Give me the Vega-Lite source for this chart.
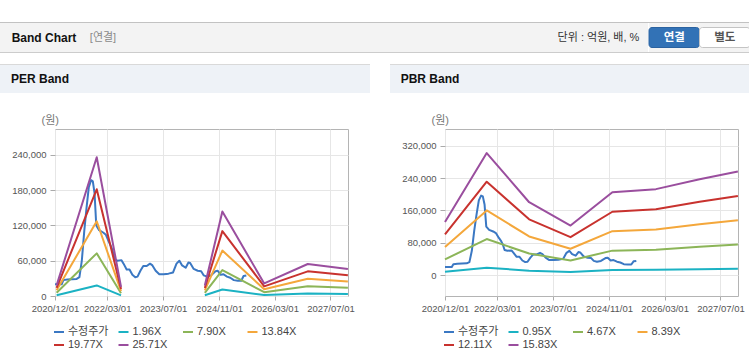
{
 "$schema": "https://vega.github.io/schema/vega-lite/v6.json",
 "padding": {"top": 22, "left": 0, "right": 0, "bottom": 0},
 "background": "#ffffff",
 "config": {
  "font": "Liberation Sans, Noto Sans CJK KR, sans-serif",
  "view": {"stroke": null},
  "legend": {"orient": "bottom", "columns": 4, "gridAlign": "all", "symbolType": "stroke", "symbolSize": 100, "symbolStrokeWidth": 2, "symbolOffset": -2, "labelFontSize": 11, "labelColor": "#444444", "labelOffset": 3, "columnPadding": 5.5, "rowPadding": 2, "offset": 13, "padding": 0}
 },
 "datasets": {
  "price": [
   {"d":"2020-12-01","v":20000},{"d":"2021-01-29","v":20000},{"d":"2021-02-12","v":27000},{"d":"2021-03-19","v":28000},
   {"d":"2021-06-08","v":29000},{"d":"2021-07-02","v":32000},{"d":"2021-07-23","v":60000},{"d":"2021-08-13","v":110000},
   {"d":"2021-09-02","v":150000},{"d":"2021-09-22","v":185000},{"d":"2021-10-12","v":197000},{"d":"2021-10-27","v":195000},
   {"d":"2021-11-11","v":175000},{"d":"2021-11-26","v":120000},{"d":"2021-12-21","v":112000},{"d":"2022-01-25","v":108000},
   {"d":"2022-02-18","v":104000},{"d":"2022-03-16","v":92000},{"d":"2022-04-05","v":84000},{"d":"2022-04-20","v":75000},
   {"d":"2022-05-05","v":62000},{"d":"2022-05-30","v":60000},{"d":"2022-07-04","v":61000},{"d":"2022-07-22","v":55000},
   {"d":"2022-08-18","v":45000},{"d":"2022-09-12","v":45000},{"d":"2022-10-07","v":36000},{"d":"2022-11-01","v":32000},
   {"d":"2022-11-21","v":33000},{"d":"2022-12-16","v":43000},{"d":"2023-01-10","v":51000},{"d":"2023-02-09","v":51000},
   {"d":"2023-03-10","v":55000},{"d":"2023-03-31","v":52000},{"d":"2023-04-28","v":43000},{"d":"2023-05-30","v":37000},
   {"d":"2023-07-07","v":37000},{"d":"2023-08-18","v":38000},{"d":"2023-09-27","v":40000},{"d":"2023-10-27","v":55000},
   {"d":"2023-11-21","v":60000},{"d":"2023-12-15","v":52000},{"d":"2024-01-15","v":48000},{"d":"2024-02-08","v":57000},
   {"d":"2024-02-23","v":56000},{"d":"2024-03-25","v":46000},{"d":"2024-04-29","v":43000},{"d":"2024-05-29","v":42000},
   {"d":"2024-06-21","v":35000},{"d":"2024-07-18","v":33000},{"d":"2024-08-22","v":35000},{"d":"2024-10-01","v":42000},
   {"d":"2024-10-21","v":43000},{"d":"2024-11-15","v":36000},{"d":"2024-12-10","v":37000},{"d":"2025-01-09","v":33000},
   {"d":"2025-02-07","v":31000},{"d":"2025-03-10","v":27000},{"d":"2025-04-14","v":26000},{"d":"2025-05-14","v":26000},
   {"d":"2025-06-03","v":34000},{"d":"2025-06-27","v":35000}
  ],
  "per": [
   {"d":"2020-12-15","g":1,"s":"1.96X","v":1372},{"d":"2020-12-15","g":1,"s":"7.90X","v":5530},{"d":"2020-12-15","g":1,"s":"13.84X","v":9688},{"d":"2020-12-15","g":1,"s":"19.77X","v":13839},{"d":"2020-12-15","g":1,"s":"25.71X","v":17997},
   {"d":"2021-11-30","g":1,"s":"1.96X","v":17993},{"d":"2021-11-30","g":1,"s":"7.90X","v":72522},{"d":"2021-11-30","g":1,"s":"13.84X","v":127051},{"d":"2021-11-30","g":1,"s":"19.77X","v":181489},{"d":"2021-11-30","g":1,"s":"25.71X","v":236018},
   {"d":"2022-06-30","g":1,"s":"1.96X","v":1176},{"d":"2022-06-30","g":1,"s":"7.90X","v":4740},{"d":"2022-06-30","g":1,"s":"13.84X","v":8304},{"d":"2022-06-30","g":1,"s":"19.77X","v":11862},{"d":"2022-06-30","g":1,"s":"25.71X","v":15426},
   {"d":"2024-06-30","g":2,"s":"1.96X","v":1352},{"d":"2024-06-30","g":2,"s":"7.90X","v":5451},{"d":"2024-06-30","g":2,"s":"13.84X","v":9550},{"d":"2024-06-30","g":2,"s":"19.77X","v":13641},{"d":"2024-06-30","g":2,"s":"25.71X","v":17740},
   {"d":"2024-11-30","g":2,"s":"1.96X","v":10943},{"d":"2024-11-30","g":2,"s":"7.90X","v":44106},{"d":"2024-11-30","g":2,"s":"13.84X","v":77269},{"d":"2024-11-30","g":2,"s":"19.77X","v":110376},{"d":"2024-11-30","g":2,"s":"25.71X","v":143539},
   {"d":"2025-11-30","g":2,"s":"1.96X","v":1627},{"d":"2025-11-30","g":2,"s":"7.90X","v":6557},{"d":"2025-11-30","g":2,"s":"13.84X","v":11487},{"d":"2025-11-30","g":2,"s":"19.77X","v":16409},{"d":"2025-11-30","g":2,"s":"25.71X","v":21339},
   {"d":"2026-12-15","g":2,"s":"1.96X","v":4153},{"d":"2026-12-15","g":2,"s":"7.90X","v":16740},{"d":"2026-12-15","g":2,"s":"13.84X","v":29327},{"d":"2026-12-15","g":2,"s":"19.77X","v":41893},{"d":"2026-12-15","g":2,"s":"25.71X","v":54479},
   {"d":"2027-11-30","g":2,"s":"1.96X","v":3508},{"d":"2027-11-30","g":2,"s":"7.90X","v":14141},{"d":"2027-11-30","g":2,"s":"13.84X","v":24774},{"d":"2027-11-30","g":2,"s":"19.77X","v":35388},{"d":"2027-11-30","g":2,"s":"25.71X","v":46021}
  ],
  "pbr": [
   {"d":"2020-12-01","s":"0.95X","v":7885},{"d":"2020-12-01","s":"4.67X","v":38761},{"d":"2020-12-01","s":"8.39X","v":69637},{"d":"2020-12-01","s":"12.11X","v":100513},{"d":"2020-12-01","s":"15.83X","v":131389},
   {"d":"2021-11-30","s":"0.95X","v":18145},{"d":"2021-11-30","s":"4.67X","v":89197},{"d":"2021-11-30","s":"8.39X","v":160249},{"d":"2021-11-30","s":"12.11X","v":231301},{"d":"2021-11-30","s":"15.83X","v":302353},
   {"d":"2022-12-05","s":"0.95X","v":10830},{"d":"2022-12-05","s":"4.67X","v":53238},{"d":"2022-12-05","s":"8.39X","v":95646},{"d":"2022-12-05","s":"12.11X","v":138054},{"d":"2022-12-05","s":"15.83X","v":180462},
   {"d":"2023-12-01","s":"0.95X","v":7363},{"d":"2023-12-01","s":"4.67X","v":36193},{"d":"2023-12-01","s":"8.39X","v":65023},{"d":"2023-12-01","s":"12.11X","v":93853},{"d":"2023-12-01","s":"15.83X","v":122683},
   {"d":"2024-11-30","s":"0.95X","v":12303},{"d":"2024-11-30","s":"4.67X","v":60477},{"d":"2024-11-30","s":"8.39X","v":108651},{"d":"2024-11-30","s":"12.11X","v":156825},{"d":"2024-11-30","s":"15.83X","v":204999},
   {"d":"2025-12-15","s":"0.95X","v":12778},{"d":"2025-12-15","s":"4.67X","v":62812},{"d":"2025-12-15","s":"8.39X","v":112846},{"d":"2025-12-15","s":"12.11X","v":162880},{"d":"2025-12-15","s":"15.83X","v":212914},
   {"d":"2026-12-31","s":"0.95X","v":14250},{"d":"2026-12-31","s":"4.67X","v":70050},{"d":"2026-12-31","s":"8.39X","v":125850},{"d":"2026-12-31","s":"12.11X","v":181650},{"d":"2026-12-31","s":"15.83X","v":237450},
   {"d":"2027-11-30","s":"0.95X","v":15390},{"d":"2027-11-30","s":"4.67X","v":75654},{"d":"2027-11-30","s":"8.39X","v":135918},{"d":"2027-11-30","s":"12.11X","v":196182},{"d":"2027-11-30","s":"15.83X","v":256446}
  ]
 },
 "spacing": 11,
 "align": "none",
 "vconcat": [
  {"spacing": 0, "align": "none", "vconcat": [
   {"width": 749, "height": 1, "view": {"fill": "#c2c2c2", "stroke": null}, "data": {"values": []}, "mark": {"type": "text", "text": ""}},
   {"spacing": 0, "align": "none", "hconcat": [
    {"width": 88, "height": 29, "view": {"fill": "#f3f3f3", "stroke": null}, "data": {"values": [{"t": "Band Chart"}]}, "mark": {"type": "text", "fontSize": 12, "fontWeight": "bold", "color": "#111111"}, "encoding": {"text": {"field": "t", "type": "nominal"}}},
    {"width": 30, "height": 29, "view": {"fill": "#f3f3f3", "stroke": null}, "data": {"values": [{"t": "[연결]"}]}, "mark": {"type": "text", "fontSize": 11, "color": "#8a8a8a"}, "encoding": {"text": {"field": "t", "type": "nominal"}}},
    {"width": 431, "height": 29, "view": {"fill": "#f3f3f3", "stroke": null}, "data": {"values": []}, "mark": {"type": "text", "text": ""}},
    {"width": 99, "height": 29, "view": {"fill": "#f3f3f3", "stroke": null}, "data": {"values": [{"t": "단위 : 억원, 배, %"}]}, "mark": {"type": "text", "fontSize": 11, "color": "#333333"}, "encoding": {"text": {"field": "t", "type": "nominal"}}},
    {"width": 101, "height": 29, "view": {"fill": "#f3f3f3", "stroke": null}, "data": {"values": [{"b": "연결"}, {"b": "별도"}]},
     "encoding": {
      "x": {"field": "b", "type": "nominal", "sort": ["연결", "별도"], "axis": null, "scale": {"paddingInner": 0, "paddingOuter": 0}},
      "y": {"datum": "btn", "type": "nominal", "axis": null, "scale": {"paddingInner": 0, "paddingOuter": 0.225}}
     },
     "layer": [
      {"mark": {"type": "bar", "cornerRadius": 3, "strokeWidth": 1},
       "encoding": {
        "fill": {"condition": {"test": "datum.b === '연결'", "value": "#3272b6"}, "value": "#ffffff"},
        "stroke": {"condition": {"test": "datum.b === '연결'", "value": "#2a62a0"}, "value": "#c4c4c4"}
       }},
      {"mark": {"type": "text", "fontSize": 11.5, "fontWeight": "bold"},
       "encoding": {
        "text": {"field": "b", "type": "nominal"},
        "color": {"condition": {"test": "datum.b === '연결'", "value": "#ffffff"}, "value": "#555555"}
       }}
     ]}
   ]},
   {"width": 749, "height": 1, "view": {"fill": "#cccccc", "stroke": null}, "data": {"values": []}, "mark": {"type": "text", "text": ""}}
  ]},
  {"spacing": 20, "align": "none",
   "resolve": {"scale": {"color": "independent"}, "legend": {"color": "independent"}},
   "hconcat": [
   {"spacing": 20, "align": "none",
    "resolve": {"scale": {"color": "independent"}, "legend": {"color": "independent"}},
    "vconcat": [
    {"spacing": 0, "align": "none", "vconcat": [
     {"width": 370, "height": 1, "view": {"fill": "#d9d9d9", "stroke": null}, "data": {"values": []}, "mark": {"type": "text", "text": ""}},
     {"spacing": 0, "align": "none", "hconcat": [
      {"width": 80, "height": 28, "view": {"fill": "#eef2f7", "stroke": null}, "data": {"values": [{"t": "PER Band"}]}, "mark": {"type": "text", "fontSize": 12, "fontWeight": "bold", "color": "#111111"}, "encoding": {"text": {"field": "t", "type": "nominal"}}},
      {"width": 290, "height": 28, "view": {"fill": "#eef2f7", "stroke": null}, "data": {"values": []}, "mark": {"type": "text", "text": ""}}
     ]}
    ]},
    {"spacing": 13, "align": "none",
     "resolve": {"scale": {"color": "independent"}, "legend": {"color": "independent"}},
     "vconcat": [
     {"spacing": 0, "align": "none",
      "resolve": {"scale": {"color": "independent"}, "legend": {"color": "independent"}},
      "hconcat": [
      {"width": 1, "height": 167, "data": {"values": []}, "mark": {"type": "text", "text": ""}},
      {"width": 293, "height": 167, "view": {"stroke": "#b4b4b4"},
      "layer": [
       {"data": {"name": "price"}, "mark": {"type": "line", "strokeWidth": 2, "strokeJoin": "round"},
        "encoding": {
         "x": {"field": "d", "type": "temporal", "title": null,
          "scale": {"type": "utc", "domain": [{"year": 2020, "month": 12, "date": 1, "utc": true}, {"year": 2027, "month": 12, "date": 1, "utc": true}]},
          "axis": {"values": [{"year": 2020, "month": 12, "date": 1, "utc": true}, {"year": 2022, "month": 3, "date": 1, "utc": true}, {"year": 2023, "month": 7, "date": 1, "utc": true}, {"year": 2024, "month": 11, "date": 1, "utc": true}, {"year": 2026, "month": 3, "date": 1, "utc": true}, {"year": 2027, "month": 7, "date": 1, "utc": true}],
           "format": "%Y/%m/%d", "labelOverlap": false, "labelFlush": false, "grid": true, "gridColor": "#e6e6e6", "domain": false, "tickColor": "#aaaaaa", "tickSize": 4, "labelPadding": 3, "labelFontSize": 9.5, "labelColor": "#555555"}},
         "y": {"field": "v", "type": "quantitative",
          "scale": {"domain": [0, 284000], "nice": false, "zero": false},
          "axis": {"values": [0, 60000, 120000, 180000, 240000], "format": ",d", "title": "(원)", "titleAngle": 0, "titleAlign": "left", "titleBaseline": "alphabetic", "titleX": -14, "titleY": -6, "titleFontSize": 11, "titleFontWeight": "normal", "titleColor": "#777777",
           "grid": true, "gridColor": "#e6e6e6", "domain": false, "tickColor": "#aaaaaa", "tickSize": 5, "labelPadding": 4, "labelFontSize": 9.5, "labelColor": "#555555", "minExtent": 53}},
         "color": {"datum": "수정주가", "type": "nominal",
          "scale": {"domain": ["수정주가", "1.96X", "7.90X", "13.84X", "19.77X", "25.71X"], "range": ["#3b78c3", "#1bb2c3", "#8cb558", "#f4a73b", "#c8322e", "#9a4e9e"]},
          "legend": {"title": null}}
        }},
       {"data": {"name": "per"}, "mark": {"type": "line", "strokeWidth": 2, "strokeJoin": "round"},
        "encoding": {
         "x": {"field": "d", "type": "temporal"},
         "y": {"field": "v", "type": "quantitative"},
         "color": {"field": "s", "type": "nominal", "legend": {"title": null}},
         "detail": {"field": "g", "type": "nominal"}
        }}
      ]}
     ]},
     {"width": 370, "height": 1, "view": {"fill": "#dddddd", "stroke": null}, "data": {"values": []}, "mark": {"type": "text", "text": ""}}
    ]}
   ]},
   {"spacing": 20, "align": "none",
    "resolve": {"scale": {"color": "independent"}, "legend": {"color": "independent"}},
    "vconcat": [
    {"spacing": 0, "align": "none", "vconcat": [
     {"width": 359, "height": 1, "view": {"fill": "#d9d9d9", "stroke": null}, "data": {"values": []}, "mark": {"type": "text", "text": ""}},
     {"spacing": 0, "align": "none", "hconcat": [
      {"width": 80, "height": 28, "view": {"fill": "#eef2f7", "stroke": null}, "data": {"values": [{"t": "PBR Band"}]}, "mark": {"type": "text", "fontSize": 12, "fontWeight": "bold", "color": "#111111"}, "encoding": {"text": {"field": "t", "type": "nominal"}}},
      {"width": 279, "height": 28, "view": {"fill": "#eef2f7", "stroke": null}, "data": {"values": []}, "mark": {"type": "text", "text": ""}}
     ]}
    ]},
    {"spacing": 13, "align": "none",
     "resolve": {"scale": {"color": "independent"}, "legend": {"color": "independent"}},
     "vconcat": [
     {"spacing": 0, "align": "none",
      "resolve": {"scale": {"color": "independent"}, "legend": {"color": "independent"}},
      "hconcat": [
      {"width": 1, "height": 167, "data": {"values": []}, "mark": {"type": "text", "text": ""}},
      {"width": 293, "height": 167, "view": {"stroke": "#b4b4b4"},
      "layer": [
       {"data": {"name": "price"}, "mark": {"type": "line", "strokeWidth": 2, "strokeJoin": "round"},
        "encoding": {
         "x": {"field": "d", "type": "temporal", "title": null,
          "scale": {"type": "utc", "domain": [{"year": 2020, "month": 12, "date": 1, "utc": true}, {"year": 2027, "month": 12, "date": 1, "utc": true}]},
          "axis": {"values": [{"year": 2020, "month": 12, "date": 1, "utc": true}, {"year": 2022, "month": 3, "date": 1, "utc": true}, {"year": 2023, "month": 7, "date": 1, "utc": true}, {"year": 2024, "month": 11, "date": 1, "utc": true}, {"year": 2026, "month": 3, "date": 1, "utc": true}, {"year": 2027, "month": 7, "date": 1, "utc": true}],
           "format": "%Y/%m/%d", "labelOverlap": false, "labelFlush": false, "grid": true, "gridColor": "#e6e6e6", "domain": false, "tickColor": "#aaaaaa", "tickSize": 4, "labelPadding": 3, "labelFontSize": 9.5, "labelColor": "#555555"}},
         "y": {"field": "v", "type": "quantitative",
          "scale": {"domain": [-52000, 362000], "nice": false, "zero": false},
          "axis": {"values": [0, 80000, 160000, 240000, 320000], "format": ",d", "title": "(원)", "titleAngle": 0, "titleAlign": "left", "titleBaseline": "alphabetic", "titleX": -14, "titleY": -6, "titleFontSize": 11, "titleFontWeight": "normal", "titleColor": "#777777",
           "grid": true, "gridColor": "#e6e6e6", "domain": false, "tickColor": "#aaaaaa", "tickSize": 5, "labelPadding": 4, "labelFontSize": 9.5, "labelColor": "#555555", "minExtent": 53}},
         "color": {"datum": "수정주가", "type": "nominal",
          "scale": {"domain": ["수정주가", "0.95X", "4.67X", "8.39X", "12.11X", "15.83X"], "range": ["#3b78c3", "#1bb2c3", "#8cb558", "#f4a73b", "#c8322e", "#9a4e9e"]},
          "legend": {"title": null}}
        }},
       {"data": {"name": "pbr"}, "mark": {"type": "line", "strokeWidth": 2, "strokeJoin": "round"},
        "encoding": {
         "x": {"field": "d", "type": "temporal"},
         "y": {"field": "v", "type": "quantitative"},
         "color": {"field": "s", "type": "nominal", "legend": {"title": null}}
        }}
      ]}
     ]},
     {"width": 359, "height": 1, "view": {"fill": "#dddddd", "stroke": null}, "data": {"values": []}, "mark": {"type": "text", "text": ""}}
    ]}
   ]}
  ]}
 ]
}
